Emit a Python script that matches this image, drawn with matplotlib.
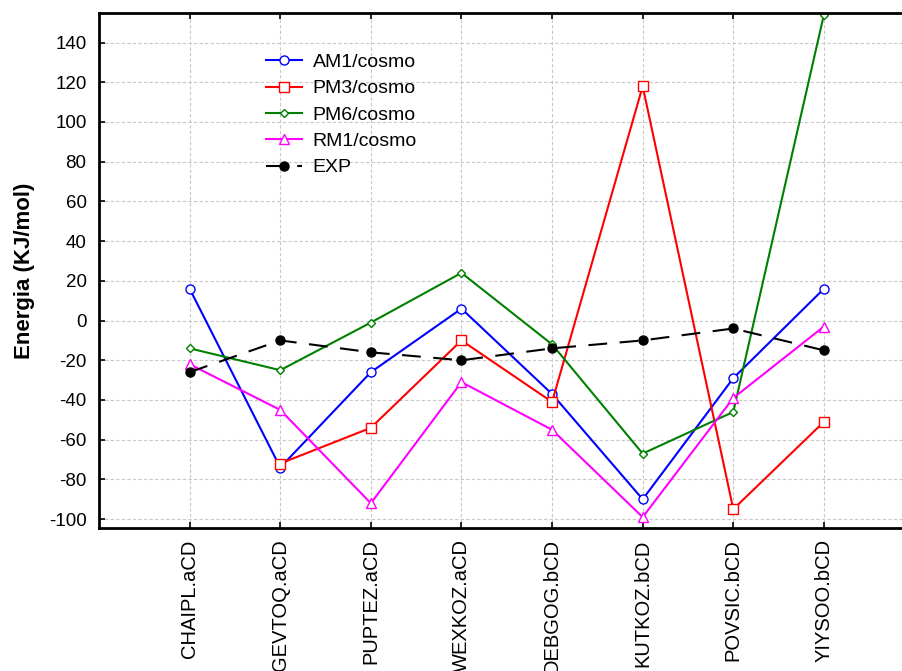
import matplotlib
matplotlib.use("Agg")
import matplotlib.pyplot as plt
import numpy as np

plt.rcParams['font.family'] = ['Liberation Sans', 'DejaVu Sans']
plt.rcParams['axes.unicode_minus'] = False

categories = ['CHAIPL.aCD', 'GEVTOQ.aCD', 'PUPTEZ.aCD', 'WEXKOZ.aCD',
              'DEBGOG.bCD', 'KUTKOZ.bCD', 'POVSIC.bCD', 'YIYSOO.bCD']

am1 = [16, -74, -26, 6, -37, -90, -29, 16]
pm3 = [np.nan, -72, -54, -10, -41, 118, -95, -51]
pm6 = [-14, -25, -1, 24, -12, -67, -46, 154]
rm1 = [-22, -45, -92, -31, -55, -99, -39, -3]
exp = [-26, -10, -16, -20, -14, -10, -4, -15]

y_ticks = [-100, -80, -60, -40, -20, 0, 20, 40, 60, 80, 100, 120, 140]

x = np.arange(len(categories))

fig = plt.figure(figsize=(9.02, 6.71), dpi=100)
ax = fig.add_axes([0.1098, 0.213, 0.890, 0.768])

ax.plot(x, am1, color='blue', lw=1.5, marker='o', ms=6.5, mfc='white', mec='blue', label='AM1/cosmo')
ax.plot(x, pm3, color='red', lw=1.5, marker='s', ms=6.5, mfc='white', mec='red', label='PM3/cosmo')
ax.plot(x, pm6, color='green', lw=1.5, marker='D', ms=4.5, mfc='white', mec='green', label='PM6/cosmo')
ax.plot(x, rm1, color='magenta', lw=1.5, marker='^', ms=7, mfc='white', mec='magenta', label='RM1/cosmo')
ax.plot(x, exp, color='black', lw=1.5, marker='o', ms=6.5, dashes=(9, 6), label='EXP')

ax.set_xlim(-1, 7.86)
ax.set_ylim(-104.5, 155)
ax.set_yticks(y_ticks)
ax.set_xticks(x)
ax.set_xticklabels(categories, rotation=90, fontsize=14.5)
ax.tick_params(axis='y', labelsize=13.5, direction='in', length=4, width=1.2, pad=9)
ax.tick_params(axis='x', direction='in', length=4, width=1.2, top=True, pad=8)

ax.grid(True, color='#c8c8c8', linestyle=(0, (3, 2)), lw=0.8)
ax.set_axisbelow(True)

for s in ['left', 'bottom', 'top']:
    ax.spines[s].set_linewidth(2)
ax.spines['right'].set_visible(False)

ax.set_ylabel('Energia (KJ/mol)', fontsize=16, fontweight='bold', labelpad=10)

ax.legend(loc='upper left', bbox_to_anchor=(0.186, 0.955), frameon=False,
          fontsize=14, handlelength=1.85, labelspacing=0.45, handletextpad=0.55)

fig.savefig('out.png', dpi=100)
